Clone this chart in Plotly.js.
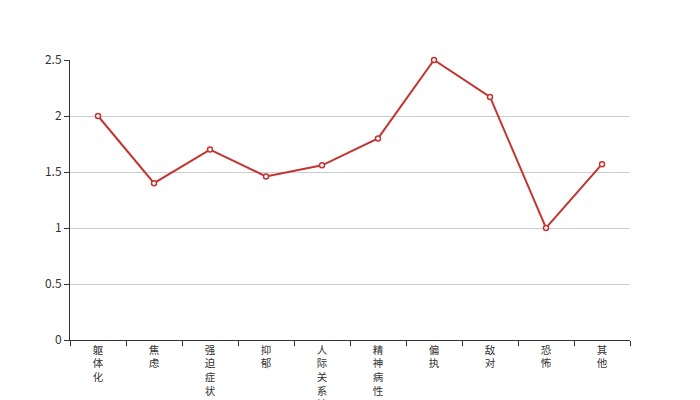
<!DOCTYPE html>
<html>
<head>
<meta charset="utf-8">
<script src="https://cdn.plot.ly/plotly-3.0.1.min.js"></script>
<style>html,body{margin:0;padding:0;background:#fff;}#chart{width:700px;height:400px;}</style>
</head>
<body>
<div id="chart"></div>
<script>
var categories = ["躯体化", "焦虑", "强迫症状", "抑郁", "人际关系敏感", "精神病性", "偏执", "敌对", "恐怖", "其他"];
var values = [2.0, 1.4, 1.7, 1.46, 1.56, 1.8, 2.5, 2.17, 1.0, 1.57];
var yTicks = [0, 0.5, 1, 1.5, 2, 2.5];
var yTickText = ["0", "0.5", "1", "1.5", "2", "2.5"];

var FONT = "'Noto Sans CJK SC', 'Noto Sans', sans-serif";
var lineColor = "#c23531";

// vertical (stacked) category labels: one character per line
var xTickText = categories.map(function (c) { return Array.from(c).join("<br>"); });

var trace = {
  x: categories,
  y: values,
  type: "scatter",
  mode: "lines+markers",
  line: {color: lineColor, width: 2},
  marker: {size: 5, color: "#ffffff", line: {color: lineColor, width: 1.5}},
  cliponaxis: false,
  hoverinfo: "x+y"
};

var layout = {
  width: 700, height: 400,
  margin: {l: 70, r: 70, t: 60, b: 60},
  paper_bgcolor: "#fff", plot_bgcolor: "#fff",
  showlegend: false,
  font: {family: FONT, size: 12, color: "#333"},
  xaxis: {
    type: "category",
    range: [-0.5, categories.length - 0.5],
    tickvals: categories, ticktext: xTickText,
    tickangle: 0,
    tickson: "boundaries",
    ticks: "outside", ticklen: 5, tickcolor: "#333", tickwidth: 1,
    tickfont: {family: FONT, size: 10.5, color: "#333"},
    showline: true, linecolor: "#333", linewidth: 1,
    showgrid: false, zeroline: false, fixedrange: true,
    automargin: false
  },
  yaxis: {
    range: [0, 2.5],
    tickvals: yTicks, ticktext: yTickText,
    ticks: "outside", ticklen: 5, tickcolor: "#333", tickwidth: 1,
    showline: true, linecolor: "#333", linewidth: 1,
    showgrid: true, gridcolor: "#ccc", gridwidth: 1,
    zeroline: false,
    tickfont: {family: FONT, size: 12, color: "#333"},
    fixedrange: true
  }
};

Plotly.newPlot("chart", [trace], layout, {displayModeBar: false, staticPlot: true});
</script>
</body>
</html>
